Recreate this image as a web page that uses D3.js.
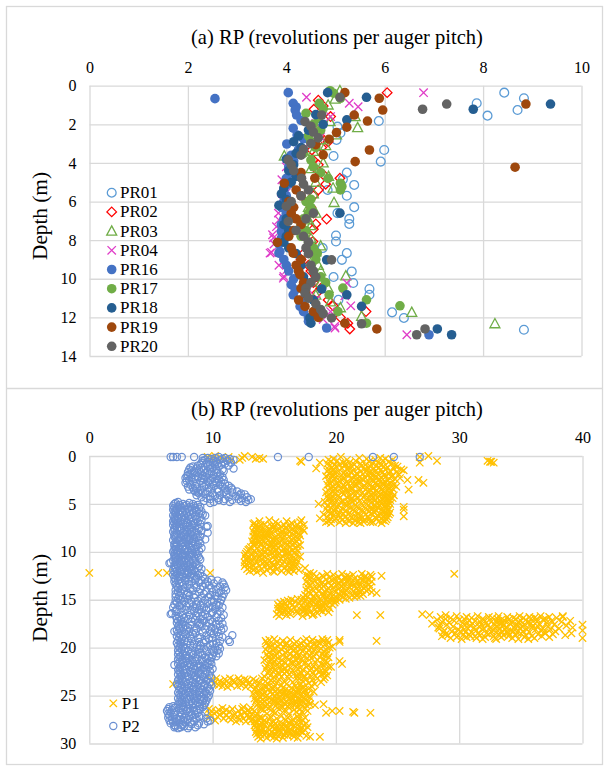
<!DOCTYPE html>
<html><head><meta charset="utf-8">
<script src="https://cdn.jsdelivr.net/npm/d3@7"></script>
<style>body{margin:0;background:#fff}svg{display:block}svg text{font-family:"Liberation Serif","Times New Roman",serif}</style>
</head><body><svg id="c" width="606" height="767"></svg>
<script>
// ---------- Panel (a) data: [depth (m), RP] ----------
const pr01 = [[0.36,8.43],[0.65,8.83],[0.91,7.87],[1.26,8.70],[1.55,8.09],[1.83,5.88],[2.12,5.04],[2.45,5.10],[2.81,5.02],[3.33,5.99],[3.64,4.96],[3.93,5.92],[4.5,5.23],[4.85,5.15],[5.14,5.38],[5.4,4.84],[5.7,5.23],[6.29,5.38],[6.6,5.04],[6.9,5.28],[7.16,5.28],[7.76,5.01],[8.07,5.01],[8.41,4.74],[8.67,5.23],[9.02,5.13],[9.62,5.33],[9.91,4.96],[10.22,5.36],[10.53,5.69],[10.83,5.69],[11.09,5.06],[11.74,6.15],[12.03,6.39],[12.64,8.83]];
const pr02 = [[0.36,6.05],[0.75,4.65],[1.05,4.75],[1.22,4.56],[1.6,4.9],[2.03,4.63],[2.29,4.63],[2.6,4.68],[2.9,4.85],[3.2,4.72],[3.33,4.52],[3.84,4.54],[4.1,4.65],[4.33,4.61],[4.6,4.75],[4.79,5.09],[5.1,4.8],[5.4,4.65],[5.7,4.55],[6.0,4.45],[6.3,4.5],[6.6,4.55],[6.91,4.82],[7.16,4.6],[7.43,4.55],[7.7,4.4],[8.07,4.54],[8.4,4.45],[8.7,4.35],[9.0,4.3],[9.3,4.45],[9.6,4.5],[9.9,4.6],[10.2,4.55],[10.5,4.7],[10.74,4.62],[11.1,4.85],[11.4,4.95],[11.7,5.62],[12.0,5.1],[12.3,5.25],[12.6,5.29]];
const pr03 = [[0.26,5.09],[0.7,4.99],[1.0,4.85],[1.6,5.4],[1.86,4.89],[2.17,5.45],[2.55,5.02],[2.8,4.7],[3.1,4.8],[3.4,4.55],[3.64,3.96],[4.0,4.75],[4.3,4.5],[4.7,4.86],[5.0,4.6],[5.3,4.95],[5.6,4.55],[6.05,4.97],[6.3,4.45],[6.6,4.6],[6.95,4.45],[7.25,4.5],[7.6,4.35],[7.9,4.5],[8.3,4.7],[8.6,4.6],[8.95,4.55],[9.3,4.65],[9.6,4.7],[9.85,5.21],[10.2,4.7],[10.5,4.85],[10.85,4.6],[11.2,4.9],[11.5,5.1],[11.74,6.55],[11.95,5.53],[12.33,8.24]];
const pr04 = [[0.36,6.79],[0.6,4.41],[0.91,5.28],[1.09,5.46],[1.6,4.9],[1.95,4.6],[2.3,4.55],[2.65,4.7],[3.0,4.45],[3.4,4.3],[3.8,4.15],[4.2,4.0],[4.55,4.05],[4.87,3.91],[5.2,3.95],[5.55,4.0],[5.9,3.9],[6.25,3.95],[6.6,3.84],[6.95,3.85],[7.3,3.8],[7.72,3.72],[7.88,3.74],[8.2,3.75],[8.64,3.70],[8.67,3.67],[9.1,3.94],[9.3,3.85],[9.53,4.01],[9.88,3.95],[9.97,3.94],[10.22,5.23],[10.55,4.45],[10.88,5.19],[11.1,4.6],[11.4,5.31],[11.7,4.9],[12.1,4.75],[12.47,4.98],[12.55,4.99],[12.9,6.45]];
const pr16 = [[0.36,4.04],[0.67,2.55],[0.91,4.14],[1.1,4.2],[1.26,4.18],[1.52,4.21],[1.8,4.3],[2.2,4.14],[2.55,4.22],[2.75,4.35],[3.02,4.01],[3.3,4.25],[3.6,4.1],[3.9,4.15],[4.2,4.05],[4.5,4.1],[4.8,4.0],[5.1,4.05],[5.4,3.95],[5.7,4.0],[6.0,3.95],[6.3,3.9],[6.6,4.0],[6.9,3.95],[7.2,3.9],[7.55,3.9],[7.9,3.9],[8.2,3.85],[8.59,3.87],[8.67,3.85],[9.0,3.95],[9.3,4.0],[9.6,4.05],[10.0,4.15],[10.3,4.1],[10.57,4.18],[10.83,4.14],[11.1,4.3],[11.43,4.28],[11.7,4.35],[12.0,4.45],[12.2,4.45],[12.55,4.82],[12.9,6.9]];
const pr17 = [[0.26,4.89],[0.39,4.96],[0.65,5.1],[0.91,4.67],[1.2,4.75],[1.43,4.4],[1.7,4.65],[2.0,4.55],[2.3,4.7],[2.6,4.45],[2.9,4.5],[3.2,4.6],[3.5,4.35],[3.85,4.5],[4.2,4.55],[4.5,4.7],[4.8,4.85],[5.05,5.1],[5.22,5.13],[5.4,5.1],[5.88,4.5],[6.0,4.4],[6.3,4.5],[6.6,4.45],[6.9,4.35],[7.2,4.3],[7.5,4.4],[7.8,4.3],[8.1,4.45],[8.4,4.55],[8.67,4.63],[9.0,4.6],[9.3,4.5],[9.6,4.55],[9.9,4.7],[10.2,4.8],[10.48,5.15],[10.83,4.87],[11.09,5.63],[11.4,6.31],[11.7,5.05],[11.98,4.67],[12.3,5.63]];
const pr18 = [[0.36,4.84],[0.6,5.63],[0.95,9.37],[1.22,7.8],[1.5,4.6],[1.77,5.23],[2.0,4.75],[2.3,4.45],[2.6,4.25],[2.9,4.15],[3.2,4.3],[3.5,4.2],[3.8,4.0],[4.1,4.15],[4.4,4.05],[4.7,4.2],[5.0,4.1],[5.3,3.95],[5.6,3.9],[5.9,4.0],[6.2,3.85],[6.6,5.09],[6.9,4.0],[7.2,3.95],[7.5,4.05],[7.8,4.0],[8.1,3.95],[8.4,4.05],[8.7,4.2],[9.02,4.82],[9.3,4.3],[9.6,4.25],[9.9,4.35],[10.2,4.4],[10.53,4.72],[10.83,5.23],[11.1,4.55],[11.43,5.53],[11.7,4.6],[12.03,4.48],[12.3,4.5],[12.6,7.07],[12.9,7.36]];
const pr19 = [[0.36,5.19],[0.65,5.89],[0.95,8.87],[1.26,5.96],[1.52,5.38],[1.83,5.65],[2.15,5.23],[2.43,5.02],[2.77,4.87],[3.05,4.6],[3.33,5.69],[3.58,4.75],[3.93,5.4],[4.22,8.65],[4.5,4.3],[4.79,4.58],[5.05,3.96],[5.4,4.2],[5.7,4.3],[6.0,4.05],[6.3,4.15],[6.6,4.1],[6.9,4.2],[7.2,4.3],[7.5,4.15],[7.8,4.05],[8.12,3.82],[8.4,4.1],[8.67,4.14],[9.0,4.3],[9.3,4.2],[9.6,4.25],[9.79,4.28],[10.2,4.35],[10.5,4.3],[10.8,4.4],[11.1,4.25],[11.43,4.38],[11.7,4.55],[12.0,4.65],[12.3,5.19],[12.6,5.84]];
const pr20 = [[0.6,5.09],[0.95,7.26],[1.22,6.77],[1.52,4.72],[1.86,4.38],[2.1,4.5],[2.4,4.55],[2.7,4.65],[3.0,4.5],[3.3,4.35],[3.6,4.3],[3.84,4.04],[4.1,4.1],[4.4,4.15],[4.79,4.31],[5.1,4.35],[5.4,4.45],[5.7,4.3],[6.0,4.1],[6.24,4.0],[6.6,4.55],[6.9,4.4],[7.03,4.04],[7.5,4.2],[7.8,4.35],[8.1,4.45],[8.4,4.4],[8.7,4.45],[9.02,4.92],[9.3,4.5],[9.6,4.55],[9.9,4.6],[10.2,4.5],[10.5,4.4],[10.74,4.38],[11.0,4.45],[11.3,4.6],[11.6,4.7],[11.8,4.75],[12.03,4.92],[12.33,5.53],[12.6,6.82],[12.9,6.65]];
const namesA = ["PR01","PR02","PR03","PR04","PR16","PR17","PR18","PR19","PR20"];
const seriesA = [pr01,pr02,pr03,pr04,pr16,pr17,pr18,pr19,pr20];
const ticksAX = [0,2,4,6,8,10];
const ticksAY = [0,2,4,6,8,10,12,14];

// ---------- Panel (b) data: rows [depth (m), RP readings at that depth ...] ----------
const p1Rows = [
[0.0,10.2,12.6,27.5],[0.1,9.6,11.3,13.2,26.8,20.4],[0.2,10.7,12.4,13.8,9.9,21.9,23.6],[0.3,11.0,13.5,14.1,19.8,22.5,24.0],[0.4,12.2,11.5,20.9,23.2,24.6,19.4],
[0.5,17.1,28.2,32.3,21.6,20.1,23.8],[0.6,17.2,32.6,32.5,22.7,19.6,24.3],[0.7,18.7,32.8,26.8,21.1,23.4,20.6],[0.8,19.3,22.0,24.5,20.8,23.0],[0.9,21.5,19.9,23.7,22.4,20.3],
[1.0,24.8,20.7,22.1,19.5,23.3],[1.1,21.3,23.9,20.0,22.8,25.0],[1.2,19.7,22.6,24.2,21.0,23.5],[1.3,18.4,20.5,23.1,21.8,24.7],[1.4,22.3,19.4,24.0,20.9,25.3],
[1.5,25.5,21.4,23.6,19.8,22.5],[1.6,20.2,24.4,22.0,23.2,19.3],[1.7,23.8,21.2,19.6,24.9,22.7],[1.8,20.6,22.9,24.3,21.7,19.9],[1.9,22.2,19.5,23.4,20.8,25.1],
[2.0,24.6,21.1,19.7,22.6,23.9],[2.1,19.2,23.0,21.6,24.1,20.4],[2.2,22.8,20.0,24.5,21.9,23.3],[2.3,20.7,25.2,22.4,19.6,23.7],[2.4,23.5,21.3,19.9,24.8,22.1],
[2.5,25.8,26.7,20.5,22.9,24.2,21.6],[2.6,19.4,23.1,21.8,24.6,20.3],[2.7,22.0,24.0,20.9,23.6,19.7],[2.8,27.1,21.4,23.8,20.1,22.5],[2.9,24.4,19.5,22.7,21.0,23.2],
[3.0,20.6,23.9,21.7,24.7,19.3],[3.1,22.3,20.2,24.1,21.5,23.4],[3.2,19.8,22.9,24.9,20.7,23.6],[3.3,23.1,21.2,19.6,24.3,22.2],[3.4,21.9,24.6,20.4,23.0,19.9],
[3.5,25.9,22.4,20.0,23.7,21.3],[3.6,19.4,24.2,22.8,20.8,23.3],[3.7,23.8,21.0,19.7,22.6,24.5],[3.8,20.5,23.4,21.7,24.0,19.2],[3.9,22.1,19.9,24.4,21.4,23.1],
[4.0,24.1,20.6,22.9,19.5,23.6],[4.1,21.6,23.9,20.2,22.4,24.7],[4.2,19.3,22.7,24.3,21.1,23.5],[4.3,23.0,20.9,19.8,24.0,22.2],[4.4,20.3,24.6,21.8,23.4,19.6],
[4.5,22.5,19.4,23.8,21.2,24.2],[4.6,24.4,21.5,20.0,22.8,23.2],[4.7,19.7,23.6,21.9,24.1,20.6],[4.8,22.9,20.4,24.3,21.3,19.1],[4.9,21.0,23.3,19.5,24.0,22.4],
[5.0,18.6,22.1,24.4,20.7,23.7],[5.1,23.5,19.8,21.6,24.2,20.2],[5.2,20.9,24.0,22.6,19.3,23.1],[5.3,25.5,21.7,23.9,20.1,22.3],[5.4,19.6,22.8,24.1,21.2,23.4],
[5.5,23.0,20.5,19.2,24.3,21.9],[5.6,25.5,21.4,23.7,20.0,22.5],[5.7,19.9,24.2,22.2,20.8,23.3],[5.8,22.7,19.4,23.8,21.5,24.0],[5.9,20.3,23.1,21.1,24.4,19.7],
[6.0,24.1,21.8,19.5,22.9,20.6],[6.1,19.0,22.4,23.6,21.0,24.3],[6.2,23.4,20.2,22.0,19.8,24.0],[6.3,25.5,21.6,23.9,20.8,22.6],[6.4,19.3,23.2,21.3,24.2,20.4],
[6.5,18.7,22.1,23.7,20.0,21.9],[6.6,20.9,24.1,22.7,19.6,23.3],[6.7,22.4,19.9,21.5,23.8,20.5,14.6,17.2],[6.8,19.4,23.5,21.1,24.0,22.2,16.0,13.8],[6.9,21.8,20.3,23.0,19.2,22.8,15.1,17.1],
[7.0,23.7,20.8,19.6,22.0,21.4,13.4,16.4],[7.1,14.2,16.5,15.3,13.3],[7.2,17.4,15.8,13.9,16.9],[7.3,14.8,13.5,16.2,15.0],[7.4,16.7,14.4,15.6,13.7],
[7.5,13.4,15.9,17.0,14.9],[7.6,15.4,16.4,14.0,17.3],[7.7,16.1,13.6,15.2,14.6],[7.8,17.4,14.3,16.6,13.9],[7.9,15.7,13.3,14.8,16.3],
[8.0,14.1,16.8,15.5,13.5],[8.1,16.0,14.7,13.8,17.0],[8.2,13.4,15.3,16.5,14.4],[8.3,15.8,17.1,14.2,13.6],[8.4,14.6,16.2,13.3,15.5],
[8.5,16.9,13.9,15.1,14.3],[8.6,13.5,15.7,16.6,14.9],[8.7,15.2,14.0,17.0,13.7],[8.8,16.4,13.4,15.0,14.5],[8.9,14.1,16.8,15.6,13.2],
[9.0,13.8,15.4,16.2,14.7],[9.1,16.7,14.3,13.5,15.9],[9.2,15.1,13.3,16.5,14.0],[9.3,13.9,16.1,14.8,17.1],[9.4,14.6,15.5,13.4,16.9],
[9.5,16.3,13.1,15.0,14.2],[9.6,13.6,14.9,16.7,15.3],[9.7,15.8,13.0,14.4,16.0],[9.8,12.9,16.5,15.2,14.0],[9.9,14.7,13.4,16.9,15.6],
[10.0,16.2,12.8,14.3,15.0],[10.1,13.5,15.9,14.8,16.6],[10.2,15.4,12.7,16.1,13.9],[10.3,14.1,16.8,13.2,15.3],[10.4,12.6,15.0,14.5,16.4],
[10.5,17.1,13.8,15.7,14.2],[10.6,16.0,12.9,14.9,13.4],[10.7,13.7,15.5,16.7,12.7],[10.8,15.1,14.0,13.1,16.3],[10.9,12.8,16.6,14.6,15.4],
[11.0,14.3,13.2,15.8,16.9],[11.1,16.2,12.6,14.8,13.6],[11.2,13.0,15.3,16.5,14.1],[11.3,15.7,14.4,12.7,16.8],[11.4,14.9,13.3,16.1,15.0],
[11.5,12.6,16.4,14.2,13.8],[11.6,16.7,15.1,13.0,14.6],[11.7,13.5,14.7,17.5,15.8],[11.8,15.2,12.8,16.3,14.0],[11.9,14.4,16.0,13.3,17.0],
[12.0,13.0,15.6,14.9,16.6],[12.1,16.2,13.6,15.0],[12.2,0.0,5.6,6.3,9.8,14.1,17.9],[12.3,29.6,18.2,20.5,22.1,19.3],[12.4,17.6,21.4,19.8,22.8],
[12.5,23.7,18.9,20.9,17.8,22.4],[12.6,21.1,19.0,22.9,18.4,20.2],[12.7,17.7,20.7,22.3,19.5],[12.8,22.0,18.6,21.5,19.9,20.8],[12.9,19.2,22.6,17.9,21.0],
[13.0,20.4,18.3,22.2,19.7,21.8],[13.1,17.6,21.3,20.0,22.9],[13.2,22.5,19.4,18.1,20.9,21.6],[13.3,18.8,21.9,20.3,17.8],[13.4,21.2,19.1,22.7,20.6,18.5],
[13.5,17.9,20.1,22.0,19.6],[13.6,22.4,18.7,21.5,20.4,19.0],[13.7,19.8,17.7,21.1,22.8],[13.8,20.6,22.3,18.4,19.4,21.7],[13.9,18.1,21.0,20.2,22.6],
[14.0,21.8,19.3,17.6,20.8,22.1],[14.1,19.9,22.5,18.6,21.4],[14.2,17.8,20.5,21.9,19.1,22.9],[14.3,23.3,18.9,20.7,21.6],[14.4,20.2,17.9,22.2,19.5,18.4],
[14.5,21.3,19.8,17.5,20.9],[14.6,18.2,22.0,19.0,20.4,21.7],[14.7,17.7,20.6,19.3,21.5],[14.8,19.6,18.3,21.1,17.4,20.1],[14.9,16.9,20.8,18.7,19.9],
[15.0,18.0,16.4,20.3,19.2,17.2],[15.1,17.5,19.6,16.1,18.8,20.0],[15.2,15.8,18.2,19.4,16.7],[15.3,17.9,16.3,19.9,18.5,15.5],[15.4,19.1,17.0,15.9,18.0],
[15.5,16.5,19.7,17.7,18.9,15.3],[15.6,18.4,15.7,17.2,19.3],[15.7,16.0,19.0,17.6,18.6,15.4],[15.8,17.4,15.6,18.8,16.6],[15.9,19.5,16.2,17.8,15.3],
[16.0,15.9,18.3,17.1,19.2],[16.1,17.5,16.4,15.5,18.7],[16.2,18.9,15.8,17.3,16.8],[16.3,16.1,17.9,15.4,19.4],[16.4,15.6,18.5,16.9,17.6],
[16.5,17.7,15.2,18.2,16.3,27.0],[16.6,21.7,23.6,16.0,18.1,27.6,28.9],[16.7,15.4,17.3,29.8,31.5,33.2,34.9,36.6,38.4],[16.8,30.6,32.4,28.5,35.7,37.3,33.9,38.4],[16.9,29.3,31.0,34.4,36.1,32.7,35.2,37.9],
[17.0,28.9,30.4,33.1,35.8,31.9,34.6,37.0,36.3],[17.1,30.0,32.0,34.0,28.2,36.8,33.4,35.4],[17.2,29.6,31.3,33.7,35.0,37.5,30.8,39.0],[17.3,28.6,32.6,34.8,31.7,36.3,33.0,38.3],[17.4,30.3,29.2,33.5,35.6,32.2,37.1,34.3],
[17.5,27.8,31.1,34.1,30.6,36.5,33.3,35.8],[17.6,29.0,32.9,31.8,35.3,37.7,40.0,34.6],[17.7,30.9,28.4,33.6,36.0,32.3,34.8,38.7],[17.8,29.5,31.6,35.1,33.0,37.2,30.2,36.4],[17.9,28.3,32.5,34.5,31.2,35.9,33.8,39.2],
[18.0,28.4,30.7,33.3,36.8,32.0,34.9,38.1],[18.1,29.9,31.9,35.5,30.4,33.7,37.4,36.2],[18.2,28.8,32.8,34.2,31.4,36.6,40.0,33.1],[18.3,30.1,29.4,33.9,35.2,32.6,37.8,34.4],[18.4,31.0,28.7,34.7,36.9,33.5,30.5,35.7],
[18.5,29.7,32.2,35.0,31.5,37.0,33.9,39.1],[18.6,30.8,28.9,33.2,36.4,32.4,34.1,37.6],[18.7,29.1,31.7,34.6,30.3,35.4,33.6,38.6],[18.8,28.6,30.9,32.8,35.9,31.3,34.0,36.7],[18.9,29.8,32.1,33.4,30.6,35.3,37.3],
[19.0,31.4,29.3,34.3,32.9,36.1,40.0],[19.1,30.2,33.0,35.6,31.9,34.8,15.0,17.6,18.9],[19.2,14.6,16.3,18.1,19.3,20.3],[19.3,15.7,17.4,19.0,14.3,23.3],[19.4,16.8,18.5,15.2,17.9,20.3],
[19.5,14.4,16.0,18.7,19.4],[19.6,17.2,15.5,18.2,16.6],[19.7,14.8,19.1,17.0,15.9],[19.8,18.4,16.2,14.5,17.7],[19.9,15.3,17.5,19.7,16.9],
[20.0,19.5,14.7,16.4,18.0,15.8],[20.1,17.1,15.0,18.8,16.7],[20.2,14.3,18.3,15.6,19.2],[20.3,16.5,17.8,14.9,18.6],[20.4,15.4,19.0,16.1,17.3],
[20.5,18.1,14.6,17.6,15.9],[20.6,16.8,19.3,15.2,18.4],[20.7,14.4,17.0,18.9,16.3],[20.8,17.9,15.7,14.8,19.1],[20.9,15.1,18.2,16.6,17.4],
[21.0,19.4,16.0,14.5,18.7],[21.1,16.9,15.3,17.7,18.0],[21.2,14.7,19.0,16.2,17.2],[21.3,18.5,15.6,14.2,16.8],[21.4,17.3,19.2,15.0,20.3],
[21.5,15.8,16.6,18.3,14.6],[21.6,19.3,17.5,15.4,16.4],[21.7,14.9,18.8,17.0,20.5],[21.8,16.1,15.2,19.0,17.8],[21.9,18.2,14.4,16.7,15.7],
[22.0,17.6,19.4,15.5,19.6],[22.1,14.8,16.3,18.6,17.1],[22.2,15.9,18.0,14.3,16.9],[22.3,19.1,17.3,15.1,18.4],[22.4,16.5,14.6,17.9,15.6],
[22.5,18.7,16.0,19.2,14.9],[22.6,15.3,17.7,16.4,18.1],[22.7,14.5,19.0,17.2,15.8],[22.8,17.0,15.4,18.8,16.2],[22.9,18.3,14.7,16.8,19.3],
[23.0,15.6,17.5,14.2,18.0],[23.1,16.9,19.1,15.0,17.4],[23.2,10.3,12.1,14.0,16.2,18.5,11.4],[23.3,11.0,13.3,15.4,17.6,12.6,19.0],[23.4,9.9,12.8,14.7,16.9,18.1,11.7],
[23.5,10.6,13.5,15.8,12.2,17.3,14.3],[23.6,11.8,10.2,14.9,16.5,18.8,13.0],[23.7,10.9,12.5,15.2,17.8,13.8,11.3],[23.8,6.8,10.1,12.9,14.5,16.0,18.3],[23.9,11.5,13.6,15.6,17.1,10.5,12.3],
[24.0,10.8,14.2,16.7,12.0,18.0,13.1],[24.1,12.7,15.0,17.4,14.4,11.2],[24.2,13.5,15.7,17.2,14.8,16.4],[24.3,16.9,14.1,17.8,15.3],[24.4,13.4,15.9,16.6,14.5,17.5],
[24.5,17.0,13.8,15.1,16.2],[24.6,18.2,14.7,16.8,13.6,15.5],[24.7,15.8,17.4,14.2,16.3],[24.8,13.3,16.0,17.7,14.9,15.2],[24.9,16.6,14.0,17.1,15.6],
[25.0,14.4,15.9,13.7,17.6,16.8],[25.1,17.3,15.0,16.1,14.3],[25.2,13.9,16.5,17.9,15.4,14.6],[25.3,15.7,17.0,13.4,16.2],[25.4,16.9,14.1,15.3,17.5,13.6],
[25.5,14.8,16.4,17.2,15.0],[25.6,13.5,15.6,16.7,14.2,17.8],[25.7,16.0,17.4,14.6,15.3],[25.8,14.0,16.8,13.7,17.1,15.8],[25.9,17.9,19.0,15.2,14.4,16.3],
[26.0,13.6,16.6,15.5,17.6,18.3],[26.1,15.1,17.3,14.3,16.1],[26.2,12.5,16.9,13.9,15.7,14.7],[26.3,14.5,17.5,16.2,10.8,13.1],[26.4,9.7,11.6,15.4,17.1,13.9,12.4],
[26.5,10.5,12.9,16.6,14.1,11.1],[26.6,19.7,20.3,9.9,12.1,15.8,17.7,13.4],[26.7,21.4,11.4,14.9,16.8,10.3,13.0],[26.8,21.5,22.8,12.6,10.9,15.1,17.3,19.2],[26.9,11.8,9.8,13.6,16.2,14.4],
[27.0,10.6,12.3,17.0,11.1,13.2],[27.1,13.5,9.9,15.6,11.7,12.8],[27.2,12.0,10.4,14.7,16.9,13.0],[27.3,11.3,13.8,16.1,9.7,17.5,14.0],[27.4,10.9,12.5,15.2,13.3,17.0],
[27.5,12.2,14.6,11.5,16.5,13.7],[27.6,10.2,13.1,15.9,17.3,14.2],[27.7,11.9,12.7,14.9,16.4,13.4],[27.8,13.6,15.5,17.1,14.3,16.2],[27.9,16.8,14.0,15.1,13.5,17.6],
[28.0,14.7,16.3,13.8,15.8],[28.1,17.4,15.0,16.6,14.2,13.4],[28.2,15.6,13.9,17.0,14.9,16.0],[28.3,13.5,16.7,15.3,17.7],[28.4,14.5,16.1,13.7,15.7,17.2],
[28.5,16.9,14.1,15.0,13.6],[28.6,15.4,17.5,14.6,16.4,13.9],[28.7,14.0,16.2,17.1,15.2],[28.8,16.6,13.5,15.9,14.8,17.3],[28.9,13.8,15.5,16.8,14.3],
[29.0,15.1,17.0,13.6,16.3,14.6],[29.1,16.5,14.2,15.8,13.9],[29.2,14.7,17.6,15.3,16.1],[29.3,17.9,18.7,13.7,15.0,16.6],[29.4,14.4,15.7,16.9],[29.5,13.9,15.2]
];
const p2Rows = [
[0.1,6.6,6.8,7.1,7.5,8.5,10.5,15.3,17.8,23.0,24.7,26.8],[0.2,9.6,10.2,11.0,9.2],[0.3,9.9,10.8,11.4],[0.4,9.4,10.6,11.7],[0.5,10.1,9.2,11.2],
[0.6,9.7,10.9,10.3],[0.7,9.1,11.5,10.0],[0.8,10.4,9.5,11.0],[0.9,9.8,10.7,9.0],[1.0,8.8,10.2,11.3],
[1.1,8.4,9.6,10.5],[1.2,9.1,8.2,10.0],[1.3,11.7,8.7,9.8],[1.4,8.1,9.3,10.8],[1.5,8.9,10.3,8.3],
[1.6,9.6,8.5,10.9],[1.7,8.0,9.9,9.0],[1.8,10.4,8.6,9.4],[1.9,8.2,9.7,10.6],[2.0,9.2,8.0,10.1],
[2.1,8.8,7.9,10.4],[2.2,9.5,8.3,10.8],[2.3,7.8,9.1,10.0],[2.4,8.6,10.5,9.3],[2.5,8.1,9.8,10.9],
[2.6,9.0,7.9,10.2],[2.7,8.4,10.7,9.6],[2.8,7.8,9.2,10.3],[2.9,8.7,10.0,11.0],[3.0,8.2,9.5,10.6],
[3.1,8.6,10.1,11.3],[3.2,9.3,8.0,10.8],[3.3,8.4,11.5,9.7],[3.4,9.9,8.7,11.0],[3.5,8.1,10.4,11.6],
[3.6,9.0,11.2,8.5],[3.7,8.6,10.5,12.0,9.6],[3.8,9.2,11.6,8.8,10.9],[3.9,10.0,12.3,8.9],[4.0,9.4,11.1,12.6],
[4.1,8.7,10.6,12.2],[4.2,9.8,11.9,10.2],[4.3,9.1,12.8,11.3],[4.4,10.4,12.4,9.5],[4.5,13.1,11.0,9.8,12.1],
[4.6,10.5,12.9,11.6],[4.7,9.3,12.3,10.9],[4.8,11.4,12.7,10.1,7.2],[4.9,7.0,8.1,9.8],[5.0,6.9,7.6,8.4],
[5.1,7.3,8.8,7.9],[5.2,6.8,7.7,8.5],[5.3,7.2,8.2,9.0],[5.4,7.5,6.9,8.6],[5.5,8.0,7.1,8.9],
[5.6,6.8,7.8,8.3],[5.7,7.4,8.7,7.0],[5.8,8.1,6.9,9.1],[5.9,7.6,8.4,7.2],[6.0,7.0,8.9,7.9],
[6.1,7.3,8.2,9.2],[6.2,6.8,7.7,9.4],[6.3,8.6,7.1,8.0],[6.4,7.5,9.0,6.9],[6.5,8.3,7.2,7.8],
[6.6,6.9,8.7,8.1],[6.7,7.7,7.0,9.1],[6.8,8.4,7.4,6.8],[6.9,7.2,8.8,7.9],[7.0,6.9,8.0,8.5],
[7.1,7.6,9.0,7.1],[7.2,8.3,6.8,7.8],[7.3,7.0,8.6,9.6],[7.4,7.9,7.3,9.5],[7.5,6.9,8.2,8.8],
[7.6,7.5,8.9,7.1],[7.7,8.1,6.9,7.7],[7.8,7.3,8.5,9.1],[7.9,6.8,7.9,8.3],[8.0,7.6,9.6,8.7],
[8.1,7.1,8.2,7.8],[8.2,8.8,7.4,6.9],[8.3,7.7,8.4,7.0],[8.4,6.9,8.0,9.0],[8.5,7.4,8.7,7.9],
[8.6,8.2,7.0,8.5],[8.7,7.2,9.4,7.7],[8.8,6.8,8.1,8.9],[8.9,7.9,7.3,8.4],[9.0,7.0,8.6,7.6],
[9.1,8.3,7.5,9.0],[9.2,7.1,8.0,6.9],[9.3,7.8,8.8,7.4],[9.4,6.9,8.4,8.1],[9.5,7.6,7.0,8.7],
[9.6,8.2,7.3,9.1],[9.7,7.0,8.5,7.8],[9.8,7.7,6.9,8.3],[9.9,8.0,7.2,8.9],[10.0,6.8,7.9,8.6],
[10.1,7.4,8.2,7.1],[10.2,8.7,7.6,6.9],[10.3,7.2,8.3,7.8],[10.4,6.9,8.8,7.5],[10.5,8.1,7.0,8.5],
[10.6,7.6,8.9,7.3],[10.7,7.0,8.0,8.6],[10.8,7.8,7.2,9.0],[10.9,6.8,8.4,7.7],[11.0,7.5,8.1,7.0],
[11.1,8.6,7.3,6.6],[11.2,6.5,7.9,8.2],[11.3,7.4,8.7,7.1],[11.4,8.0,6.9,7.7],[11.5,7.2,8.4,8.9],
[11.6,6.9,7.6,8.1],[11.7,7.8,8.8,7.3],[11.8,7.0,8.2,9.1],[11.9,7.5,6.8,8.5],[12.0,8.3,7.1,7.9],
[12.1,6.9,8.6,7.4],[12.2,7.7,9.0,8.0],[12.3,7.1,8.3,7.5],[12.4,6.8,7.9,8.8],[12.5,7.6,8.5,7.0],
[12.6,8.2,7.3,9.2],[12.7,6.9,8.7,7.8],[12.8,7.4,9.4,8.1],[12.9,7.0,8.6,9.9],[13.0,7.8,10.4,9.1,7.2],
[13.1,6.9,9.6,8.3],[13.2,8.9,10.8,7.5],[13.3,7.3,9.4,10.1],[13.4,8.1,10.9,7.0],[13.5,9.7,7.6,8.5],
[13.6,7.1,10.6,9.2],[13.7,8.7,7.8,11.0],[13.8,9.9,7.2,8.2],[13.9,7.5,10.3,9.0],[14.0,8.4,11.1,7.0],
[14.1,9.5,7.7,10.7],[14.2,7.2,8.9,10.0],[14.3,8.0,10.5,7.4],[14.4,9.3,7.0,10.9],[14.5,7.9,8.6,9.8],
[14.6,10.2,7.3,8.1],[14.7,7.0,9.7,10.8],[14.8,8.5,7.6,9.1],[14.9,10.4,8.0,7.2],[15.0,7.4,9.4,10.7],
[15.1,8.8,7.0,9.9],[15.2,7.7,10.1,8.3],[15.3,9.2,7.1,10.6],[15.4,8.1,9.6,7.5],[15.5,6.9,8.7,10.3],
[15.6,9.0,7.3,10.5],[15.7,7.9,10.0,8.4],[15.8,6.8,9.3,10.8],[15.9,8.6,7.5,9.7],[16.0,7.1,10.2,8.9],
[16.1,9.5,7.8,8.2],[16.2,7.0,8.5,10.6],[16.3,10.0,7.4,9.1],[16.4,6.7,8.8,9.9],[16.5,6.6,9.4,10.4],
[16.6,7.6,8.1,10.9],[16.7,9.2,7.0,8.7],[16.8,7.3,10.3,9.6],[16.9,8.4,7.7,10.7],[17.0,7.1,9.0,8.0],
[17.1,9.8,7.4,8.6],[17.2,7.2,10.5,9.3],[17.3,8.3,7.6,10.0],[17.4,9.7,7.1,8.8],[17.5,7.5,10.8,9.0],
[17.6,8.9,7.3,10.3],[17.7,7.8,9.5,8.2],[17.8,10.6,7.2,9.1],[17.9,8.0,9.9,7.6],[18.0,10.9,7.3,8.7],
[18.1,7.9,9.4,10.2],[18.2,7.1,8.5,10.7],[18.3,6.9,9.8,8.1],[18.4,7.7,10.4,9.2],[18.5,8.6,7.2,9.9],
[18.6,10.1,7.8,8.4],[18.7,11.6,7.4,9.5],[18.8,8.2,10.5,7.1],[18.9,9.0,7.6,10.8],[19.0,7.3,8.8,10.0],
[19.1,9.7,7.5,8.3],[19.2,11.3,7.2,9.4],[19.3,8.0,10.6,7.7],[19.4,11.4,8.9,7.4],[19.5,7.1,9.3,10.3],
[19.6,8.5,7.4,10.0],[19.7,9.8,7.9,8.2],[19.8,7.2,10.5,9.0],[19.9,8.7,7.6,9.6],[20.0,7.3,10.2,8.4],
[20.1,9.3,7.8,10.6],[20.2,7.5,8.9,9.9],[20.3,10.4,7.2,8.0],[20.4,7.7,9.5,8.6],[20.5,9.0,7.3,10.1],
[20.6,8.3,10.5,7.6],[20.7,7.2,9.2,8.8],[20.8,10.0,7.9,8.4],[20.9,7.4,9.7,10.3],[21.0,8.6,7.3,9.4],
[21.1,7.8,9.9,8.1],[21.2,7.2,8.7,9.5],[21.3,9.1,7.5,8.3],[21.4,7.9,9.8,8.6],[21.5,7.3,8.4,9.2],
[21.6,9.6,7.6,8.0],[21.7,7.2,8.9,9.9],[21.8,6.9,8.2,9.4],[21.9,7.7,9.0,8.5],[22.0,9.7,7.4,8.1],
[22.1,7.3,8.8,9.3],[22.2,8.4,7.8,10.0],[22.3,9.1,7.2,8.6],[22.4,7.6,9.5,8.2],[22.5,8.9,7.3,9.8],
[22.6,7.9,8.5,7.4],[22.7,9.4,7.7,8.8],[22.8,7.2,9.0,8.3],[22.9,8.6,7.5,9.7],[23.0,7.4,9.2,8.0],
[23.1,9.9,7.8,8.5],[23.2,7.3,8.7,9.3],[23.3,8.1,9.6,7.5],[23.4,7.2,8.9,9.0],[23.5,9.5,7.6,8.2],
[23.6,7.8,8.4,9.8],[23.7,7.3,9.1,8.6],[23.8,7.1,8.0,9.4],[23.9,8.8,7.5,9.9],[24.0,7.2,9.3,8.3],
[24.1,8.5,7.7,9.6],[24.2,7.4,9.0,8.1],[24.3,9.7,7.9,8.7],[24.4,7.3,8.4,9.2],[24.5,8.9,7.6,9.8],
[24.6,7.5,9.4,8.2],[24.7,8.0,7.2,9.0],[24.8,9.5,7.8,8.6],[24.9,7.3,8.9,9.3],[25.0,8.4,7.6,9.7],
[25.1,7.4,9.1,8.2],[25.2,8.7,7.7,9.6],[25.3,7.2,8.5,9.3],[25.4,9.0,7.9,8.1],[25.5,7.5,9.5,8.6],
[25.6,8.3,7.3,9.2],[25.7,7.8,8.8,7.4],[25.8,9.4,7.5,8.4],[25.9,7.2,8.1,9.0],[26.0,8.6,7.6,9.3],
[26.1,6.8,8.9,7.5],[26.2,7.7,6.5,9.2],[26.3,8.4,6.9,7.3],[26.4,6.4,8.0,9.0],[26.5,7.6,8.7,6.7],
[26.6,6.3,7.9,8.5],[26.7,8.2,7.0,9.4],[26.8,6.6,7.4,8.8],[26.9,7.8,6.4,8.3],[27.0,6.9,8.6,7.5],
[27.1,8.1,6.5,9.1],[27.2,7.3,8.9,6.8],[27.3,6.4,7.7,8.4],[27.4,8.7,7.1,9.5],[27.5,6.7,8.0,7.4],
[27.6,9.8,7.6,6.5],[27.7,7.0,8.5,9.6],[27.8,6.8,7.8,8.2],[27.9,8.9,7.3,6.6],[28.0,7.6,8.3,9.3],
[28.1,6.9,7.5,8.8],[28.2,8.1,7.0,7.7],[28.3,7.4,8.6,6.9],[28.4,8.0,7.2]
];
const namesB = ["P1","P2"];
const ticksBX = [0,10,20,30,40];
const ticksBY = [0,5,10,15,20,25,30];
const titleA = "(a) RP (revolutions per auger pitch)";
const titleB = "(b) RP (revolutions per auger pitch)";
const yTitle = "Depth (m)";

// ---------- drawing ----------
const FONT = '"Liberation Serif","Times New Roman",serif';
const GRID = "#D9D9D9";
const svg = d3.select("#c");
svg.append("rect").attr("width",606).attr("height",767).attr("fill","#fff");
svg.append("rect").attr("x",6.5).attr("y",6.5).attr("width",596).attr("height",758)
  .attr("fill","none").attr("stroke",GRID).attr("stroke-width",1.3);
svg.append("line").attr("x1",6.5).attr("x2",602.5).attr("y1",388.5).attr("y2",388.5)
  .attr("stroke",GRID).attr("stroke-width",1.3);

const shapes = {
  circle: r => d3.symbol(d3.symbolCircle, Math.PI*r*r)(),
  diamond: s => `M0,${-s}L${s},0L0,${s}L${-s},0Z`,
  triangle: s => `M0,${-s*1.05}L${s},${s*0.8}L${-s},${s*0.8}Z`,
  cross: s => `M${-s},${-s}L${s},${s}M${-s},${s}L${s},${-s}`
};

function panel(o){
  const g = svg.append("g");
  const x = d3.scaleLinear(o.xDomain, o.xRange);
  const y = d3.scaleLinear(o.yDomain, o.yRange);
  g.append("g").attr("transform",`translate(0,${o.yRange[0]})`)
    .call(d3.axisBottom(x).tickValues(o.xTicks).tickSize(o.yRange[1]-o.yRange[0]).tickFormat(""))
    .call(a=>{a.select(".domain").remove(); a.selectAll("line").attr("stroke",GRID).attr("stroke-width",1.3);});
  g.append("g").attr("transform",`translate(${o.xRange[0]},0)`)
    .call(d3.axisRight(y).tickValues(o.yTicks).tickSize(o.xRange[1]-o.xRange[0]).tickFormat(""))
    .call(a=>{a.select(".domain").remove(); a.selectAll("line").attr("stroke",GRID).attr("stroke-width",1.3);});
  g.append("g").attr("transform",`translate(0,${o.yRange[0]})`)
    .call(d3.axisTop(x).tickValues(o.xTicks).tickSize(0).tickPadding(o.xPad).tickFormat(d3.format("d")))
    .call(a=>{a.select(".domain").remove(); a.attr("font-family",FONT).attr("font-size",16);
      a.selectAll("text").attr("fill","#000");});
  g.append("g").attr("transform",`translate(${o.xRange[0]},0)`)
    .call(d3.axisLeft(y).tickValues(o.yTicks).tickSize(0).tickPadding(o.yPad).tickFormat(d3.format("d")))
    .call(a=>{a.select(".domain").remove(); a.attr("font-family",FONT).attr("font-size",16);
      a.selectAll("text").attr("fill","#000");});
  const t = g.append("text").attr("x",o.titleX).attr("y",o.titleY).attr("text-anchor","middle")
    .attr("font-size",20).attr("fill","#000").text(o.title);
  const tl = t.node().getComputedTextLength();
  t.attr("font-size", 20*o.titleW/tl);
  const yt = g.append("text").attr("transform",`translate(${o.yTitleX},${o.yTitleY}) rotate(-90)`)
    .attr("text-anchor","middle").attr("dominant-baseline","central")
    .attr("font-size",20).attr("fill","#000").text(yTitle);
  const yl = yt.node().getComputedTextLength();
  yt.attr("font-size", 20*o.yTitleW/yl);
  return {g,x,y};
}

// Panel (a)
const A = panel({xDomain:[0,10], xRange:[89.5,581.5], yDomain:[0,14], yRange:[85.7,356],
  xTicks:ticksAX, yTicks:ticksAY, xPad:13, yPad:13, title:titleA, titleX:337, titleY:44, titleW:292,
  yTitleX:40, yTitleY:216, yTitleW:88});
const styleA = [
  {shape:"circle", size:4.4, fill:"none", stroke:"#5B9BD5"},
  {shape:"diamond", size:4.8, fill:"none", stroke:"#FF0000"},
  {shape:"triangle", size:5.0, fill:"none", stroke:"#70AD47"},
  {shape:"cross", size:4.2, fill:"none", stroke:"#E03CC8"},
  {shape:"circle", size:4.8, fill:"#4472C4", stroke:"none"},
  {shape:"circle", size:4.8, fill:"#70AD47", stroke:"none"},
  {shape:"circle", size:4.8, fill:"#255E91", stroke:"none"},
  {shape:"circle", size:4.8, fill:"#9E480E", stroke:"none"},
  {shape:"circle", size:4.8, fill:"#636363", stroke:"none"}
];
seriesA.forEach((s,i)=>{
  const st = styleA[i];
  A.g.append("g").selectAll("path").data(s).join("path")
    .attr("transform",d=>`translate(${A.x(d[1])},${A.y(d[0])})`)
    .attr("d",shapes[st.shape](st.size))
    .attr("fill",st.fill).attr("stroke",st.stroke).attr("stroke-width",1.3);
});
const legA = A.g.append("g");
namesA.forEach((n,i)=>{
  const st = styleA[i], cy = 192.7 + i*19.2;
  legA.append("path").attr("transform",`translate(111.7,${cy})`).attr("d",shapes[st.shape](st.size))
    .attr("fill",st.fill).attr("stroke",st.stroke).attr("stroke-width",1.3);
  legA.append("text").attr("x",120).attr("y",cy).attr("dominant-baseline","central")
    .attr("font-size",17).attr("fill","#000").text(n);
});

// Panel (b)
const B = panel({xDomain:[0,40], xRange:[89.3,582.5], yDomain:[0,30], yRange:[456,743.5],
  xTicks:ticksBX, yTicks:ticksBY, xPad:13, yPad:13, title:titleB, titleX:337, titleY:416, titleW:292,
  yTitleX:40, yTitleY:598, yTitleW:88});
function flatten(rows){ const out=[]; rows.forEach(r=>r.slice(1).forEach(v=>out.push([r[0],v]))); return out; }
const styleB = [
  {shape:"cross", size:3.7, fill:"none", stroke:"#FFC000", sw:1.3},
  {shape:"circle", size:3.6, fill:"none", stroke:"#6A8FD2", sw:1.2}
];
[p1Rows,p2Rows].forEach((rows,i)=>{
  const st = styleB[i];
  B.g.append("g").selectAll("path").data(flatten(rows)).join("path")
    .attr("transform",d=>`translate(${B.x(d[1])},${B.y(d[0])})`)
    .attr("d",shapes[st.shape](st.size))
    .attr("fill",st.fill).attr("stroke",st.stroke).attr("stroke-width",st.sw);
});
const legB = B.g.append("g");
namesB.forEach((n,i)=>{
  const st = styleB[i], cy = 703.3 + i*22.7;
  legB.append("path").attr("transform",`translate(113.3,${cy})`).attr("d",shapes[st.shape](st.size))
    .attr("fill",st.fill).attr("stroke",st.stroke).attr("stroke-width",st.sw);
  legB.append("text").attr("x",121.7).attr("y",cy).attr("dominant-baseline","central")
    .attr("font-size",17).attr("fill","#000").text(n);
});
</script></body></html>
